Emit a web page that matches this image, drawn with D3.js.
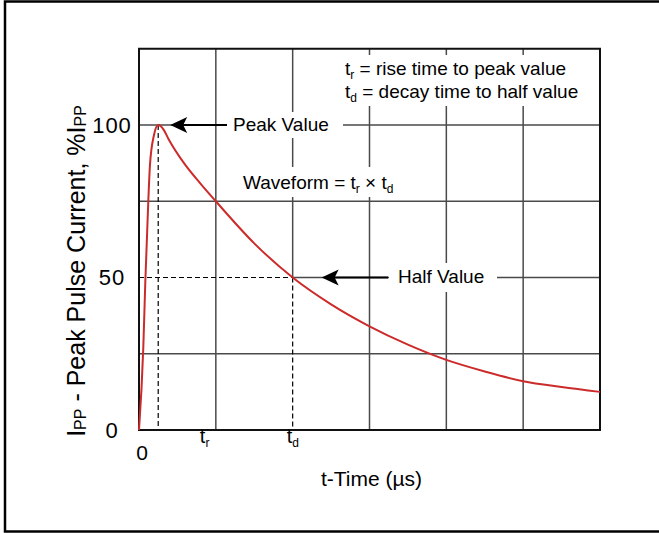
<!DOCTYPE html>
<html>
<head>
<meta charset="utf-8">
<script src="https://cdn.jsdelivr.net/npm/d3@7"></script>
<style>
  body { margin: 0; background: #fff; }
  svg { display: block; font-family: "Liberation Sans", Arial, sans-serif; }
</style>
</head>
<body>
<svg id="chart" width="659" height="533"></svg>
<script>
// curve: time in grid units (tr = 1, td = 2), current in % of Ipp
var timeValues = [0, 0.056, 0.082, 0.121, 0.143, 0.195, 0.25, 0.32, 0.38, 0.6, 0.8, 1.0, 1.5, 2.0, 2.5, 3.0, 3.5, 4.0, 4.5, 5.0, 5.5, 6.0]
var currentValues = [0, 27, 48.5, 75, 87, 96.7, 100, 98.5, 95.6, 87, 80.8, 75, 61.2, 50, 41.2, 34, 28, 23, 19.2, 16, 14.1, 12.5]
var yTicks = [0, 50, 100]
var xGrid = [1, 2, 3, 4, 5]
var yGrid = [25, 50, 75, 100]
var peakTime = 0.25, riseTime = 1, decayTime = 2

var dados = timeValues.map(function (t, i) { return {t: t, v: currentValues[i]} })

var margin = {top: 48.75, right: 59, bottom: 103, left: 139},
    width = 659 - margin.left - margin.right,
    height = 533 - margin.top - margin.bottom

const svg = d3.select("#chart")

// outer frame (runs off the right edge)
svg.append("rect")
    .attr("x", 5).attr("y", 1.5)
    .attr("width", 700).attr("height", 530)
    .attr("fill", "none").attr("stroke", "#000").attr("stroke-width", 2.5)

const chart = svg.append("g")
    .attr("transform", "translate(" + margin.left + "," + margin.top + ")")

const x = d3.scaleLinear().domain([0, 6]).range([0, width])
const y = d3.scaleLinear().domain([0, 125]).range([height, 0])

const gridColor = "#4a4a4a"

/*vertical grid*/
chart.selectAll(".vgrid")
    .data(xGrid)
    .enter()
    .append("line")
        .attr("x1", (d) => x(d)).attr("x2", (d) => x(d))
        .attr("y1", 0)
        .attr("y2", (d) => d == decayTime ? y(50) : height)
        .attr("stroke", gridColor).attr("stroke-width", 1.5)

/*horizontal grid*/
chart.selectAll(".hgrid")
    .data(yGrid)
    .enter()
    .append("line")
        .attr("x1", (d) => d == 50 ? x(decayTime) : 0)
        .attr("x2", width)
        .attr("y1", (d) => y(d)).attr("y2", (d) => y(d))
        .attr("stroke", gridColor).attr("stroke-width", 1.5)

// dashed helper lines
const dashed = [
    {x1: x(peakTime), y1: y(100), x2: x(peakTime), y2: height},
    {x1: x(decayTime), y1: y(50), x2: x(decayTime), y2: height},
    {x1: 0, y1: y(50), x2: x(decayTime), y2: y(50)}
]
chart.selectAll(".dash")
    .data(dashed)
    .enter()
    .append("line")
        .attr("x1", (d) => d.x1).attr("y1", (d) => d.y1)
        .attr("x2", (d) => d.x2).attr("y2", (d) => d.y2)
        .attr("stroke", "#000").attr("stroke-width", 1.2)
        .attr("stroke-dasharray", "5,3")

// plot frame
chart.append("rect")
    .attr("width", width).attr("height", height)
    .attr("fill", "none").attr("stroke", "#111").attr("stroke-width", 2)

// white boxes that break the grid behind the notes
const boxes = [
    {x: 227, y: 112, w: 116, h: 26},
    {x: 340, y: 55, w: 245, h: 51},
    {x: 236, y: 167, w: 164, h: 30},
    {x: 389, y: 263, w: 108, h: 29}
]
svg.selectAll(".box")
    .data(boxes)
    .enter()
    .append("rect")
        .attr("x", (d) => d.x).attr("y", (d) => d.y)
        .attr("width", (d) => d.w).attr("height", (d) => d.h)
        .attr("fill", "#fff")

// the curve
chart.append("path")
    .datum(dados)
    .attr("fill", "none")
    .attr("stroke", "#cc2b2b")
    .attr("stroke-width", 2)
    .attr("d", d3.line()
        .x((d) => x(d.t))
        .y((d) => y(d.v))
        .curve(d3.curveMonotoneX)
    )

// arrows
function arrow(xTip, xEnd, yy) {
    chart.append("line")
        .attr("x1", xTip + 10).attr("x2", xEnd)
        .attr("y1", yy).attr("y2", yy)
        .attr("stroke", "#000").attr("stroke-width", 2)
    chart.append("path")
        .attr("d", "M" + xTip + "," + yy + "L" + (xTip + 17) + "," + (yy - 8) +
            "L" + (xTip + 13) + "," + yy + "L" + (xTip + 17) + "," + (yy + 8) + "Z")
        .attr("fill", "#000")
}
arrow(x(peakTime) + 12, 227 - margin.left, y(100))
arrow(x(decayTime) + 29, 388 - margin.left, y(50))

const fs = 19

/*y tick labels*/
chart.selectAll(".ylab")
    .data(yTicks)
    .enter()
    .append("text")
        .attr("x", -27)
        .attr("y", (d) => y(d))
        .attr("dy", "0.36em")
        .attr("text-anchor", "middle")
        .attr("font-size", 22)
        .attr("letter-spacing", 1)
        .text((d) => d)

/*x tick labels*/
chart.append("text")
    .attr("x", 3).attr("y", height + 30)
    .attr("text-anchor", "middle").attr("font-size", 21)
    .text("0")

function subText(g, main, sub, after, attrs, size) {
    const t = g.append("text").attr("font-size", size || fs)
    Object.keys(attrs).forEach(function (k) { t.attr(k, attrs[k]) })
    t.append("tspan").text(main)
    t.append("tspan").attr("font-size", 12).attr("dy", 4).text(sub)
    if (after) t.append("tspan").attr("dy", -4).text(after)
    return t
}

subText(chart, "t", "r", "", {x: x(riseTime) - 16, y: height + 13}, 20)
subText(chart, "t", "d", "", {x: x(decayTime) - 6, y: height + 13}, 20)

/*axis titles*/
chart.append("text")
    .attr("x", width / 2 + 2).attr("y", height + 56)
    .attr("text-anchor", "middle").attr("font-size", 21)
    .text("t-Time (µs)")

const yt = chart.append("text")
    .attr("transform", "translate(" + (85 - margin.left) + "," + (271 - margin.top) + ") rotate(-90)")
    .attr("text-anchor", "middle").attr("font-size", 25)
yt.append("tspan").text("I")
yt.append("tspan").attr("font-size", 16).attr("dy", 1).text("PP")
yt.append("tspan").attr("dy", -1).text(" - Peak Pulse Current, %I")
yt.append("tspan").attr("font-size", 16).attr("dy", 1).text("PP")

/*notes*/
svg.append("text").attr("x", 233).attr("y", 131).attr("font-size", fs).text("Peak Value")
svg.append("text").attr("x", 398).attr("y", 283).attr("font-size", fs).text("Half Value")
subText(svg, "t", "r", " = rise time to peak value", {x: 345, y: 75})
subText(svg, "t", "d", " = decay time to half value", {x: 345, y: 98})

const wf = svg.append("text").attr("x", 243).attr("y", 189).attr("font-size", fs)
wf.append("tspan").text("Waveform = t")
wf.append("tspan").attr("font-size", 12).attr("dy", 4).text("r")
wf.append("tspan").attr("dy", -4).text(" × t")
wf.append("tspan").attr("font-size", 12).attr("dy", 4).text("d")
</script>
</body>
</html>
